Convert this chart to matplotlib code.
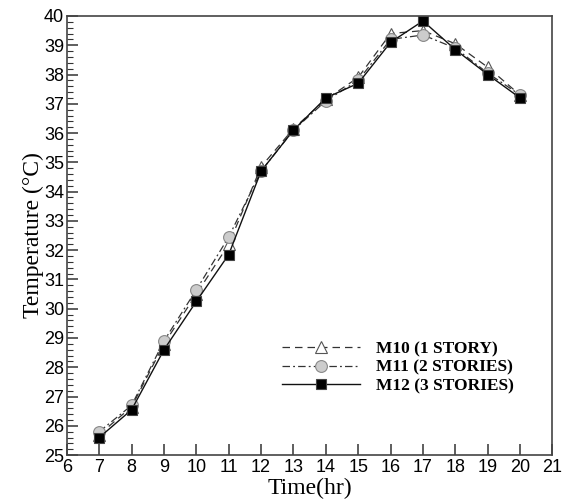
import matplotlib
matplotlib.use("Agg")
import matplotlib.pyplot as plt
from matplotlib.ticker import MultipleLocator

plt.rcParams["font.family"] = ["Liberation Sans", "DejaVu Sans"]

hours = [7, 8, 9, 10, 11, 12, 13, 14, 15, 16, 17, 18, 19, 20]
m10 = [25.7, 26.65, 28.8, 30.5, 32.2, 34.85, 36.15, 37.15, 37.9, 39.4, 39.5, 39.05, 38.25, 37.3]
m11 = [25.8, 26.7, 28.9, 30.65, 32.45, 34.7, 36.1, 37.1, 37.8, 39.2, 39.35, 38.9, 38.05, 37.3]
m12 = [25.6, 26.55, 28.6, 30.25, 31.85, 34.7, 36.1, 37.2, 37.7, 39.1, 39.83, 38.85, 38.0, 37.2]
labels = ["M10 (1 STORY)", "M11 (2 STORIES)", "M12 (3 STORIES)"]

fig = plt.figure(figsize=(5.62, 4.99), dpi=100)
ax = fig.add_axes([0.119, 0.088, 0.864, 0.880])

ax.plot(hours, m10, color="#333333", lw=0.9, ls=(0, (6, 4)),
        marker="^", ms=8, mfc="white", mec="#555555", mew=0.8, label=labels[0])
ax.plot(hours, m11, color="#333333", lw=0.9, ls=(0, (6, 2.5, 1.5, 2.5)),
        marker="o", ms=8.5, mfc="#cccccc", mec="#888888", mew=0.8, label=labels[1])
ax.plot(hours, m12, color="#111111", lw=1.0, ls="-",
        marker="s", ms=6.5, mfc="black", mec="#444444", mew=0.8, label=labels[2])

ax.set_xlim(6, 21)
ax.set_ylim(25, 40)
ax.xaxis.set_major_locator(MultipleLocator(1))
ax.yaxis.set_major_locator(MultipleLocator(1))
ax.yaxis.set_minor_locator(MultipleLocator(0.2))
ax.tick_params(which="both", direction="in", top=False, right=False,
               labelsize=13, color="#333333")
ax.tick_params(axis="x", pad=3)
ax.tick_params(axis="y", pad=2)
ax.tick_params(which="major", length=8, width=1.1)
ax.tick_params(which="minor", length=4, width=0.8)
for s in ax.spines.values():
    s.set_color("#444444")
    s.set_linewidth(1.2)

ax.set_xlabel("Time(hr)", family="Liberation Serif", fontsize=17, labelpad=1)
ax.set_ylabel("Temperature (°C)", family="Liberation Serif", fontsize=17, labelpad=0)

ax.legend(loc="lower right", bbox_to_anchor=(0.935, 0.122), borderaxespad=0, frameon=False,
          prop={"family": "Liberation Serif", "weight": "bold", "size": 12.5},
          handlelength=4.5, handletextpad=0.9, labelspacing=0.15)

fig.savefig("out.png", dpi=100)
